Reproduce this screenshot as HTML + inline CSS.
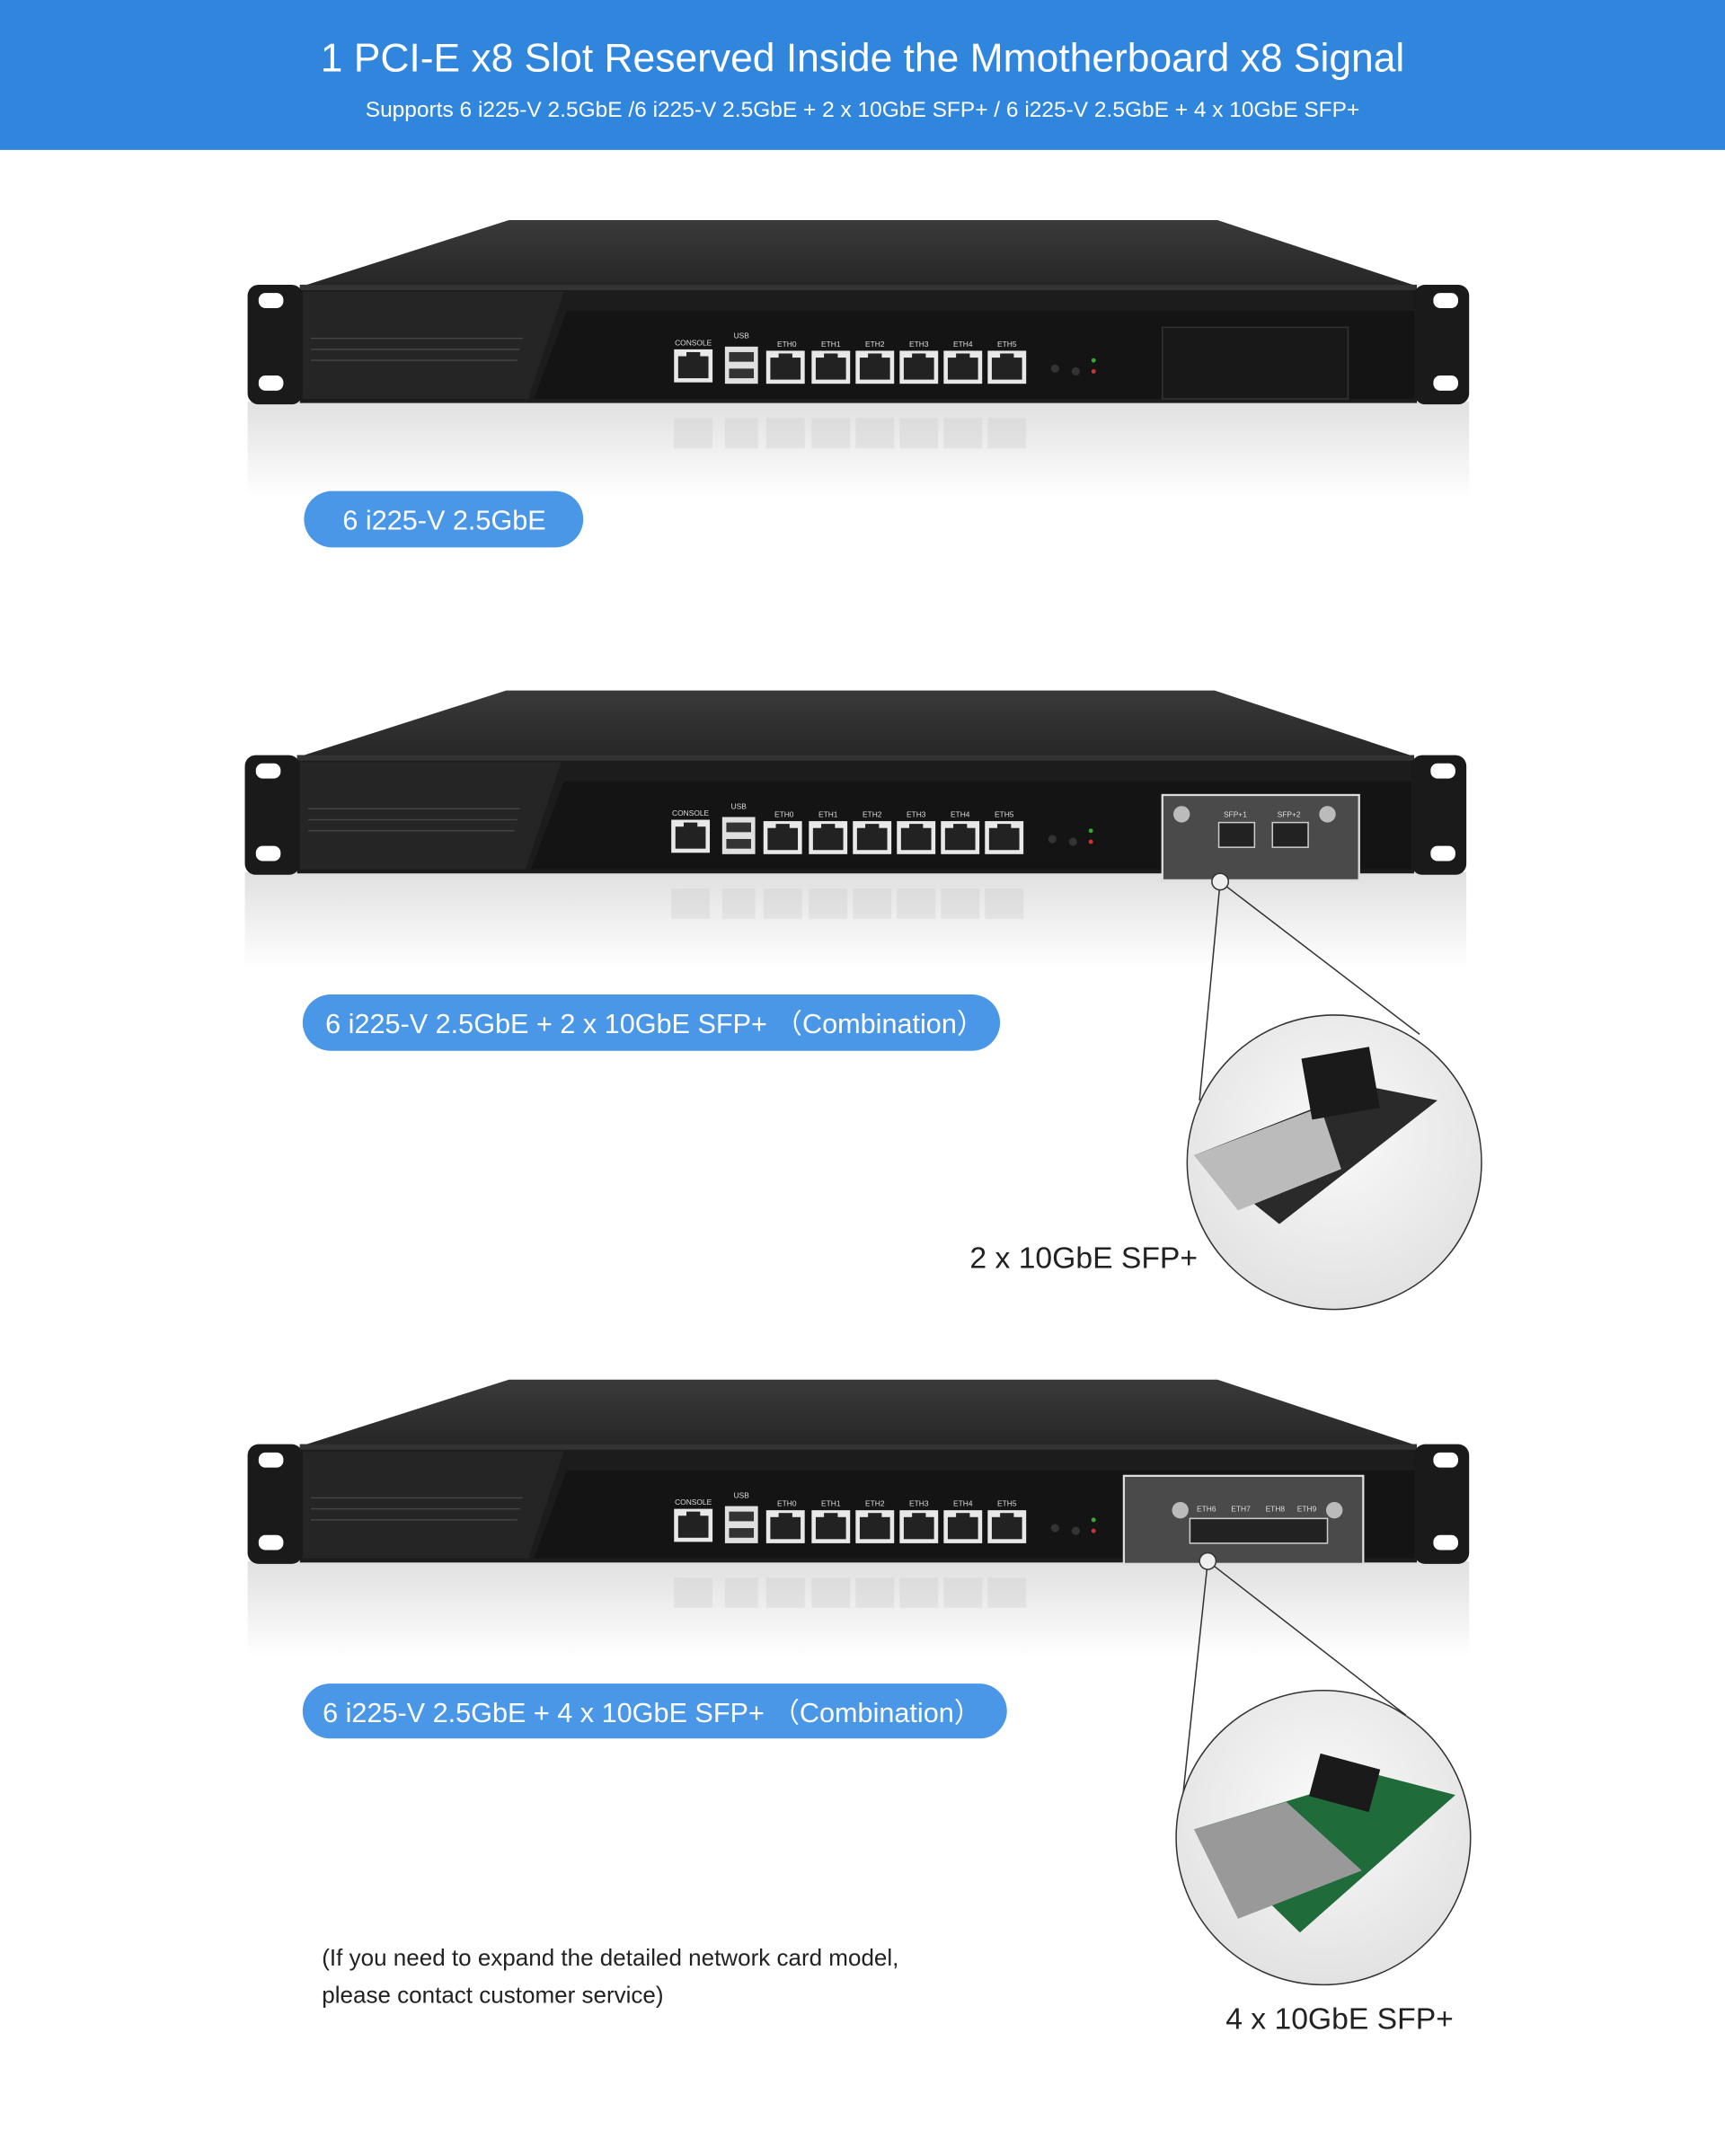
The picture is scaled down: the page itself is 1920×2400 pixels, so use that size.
<!DOCTYPE html>
<html><head><meta charset="utf-8"><style>
html,body{margin:0;padding:0;background:#fff}
svg{display:block}
text{font-family:"Liberation Sans","DejaVu Sans",sans-serif}
</style></head><body>
<svg width="1920" height="2400" viewBox="0 0 1254 1567.5" xmlns="http://www.w3.org/2000/svg">
<defs>
<linearGradient id="refl" x1="0" y1="0" x2="0" y2="1">
<stop offset="0" stop-color="#d8d8d8"/><stop offset="1" stop-color="#fff"/></linearGradient>
<linearGradient id="top" x1="0" y1="0" x2="0" y2="1">
<stop offset="0" stop-color="#3a3a3a"/><stop offset="1" stop-color="#262626"/></linearGradient>
<radialGradient id="circ" cx="0.5" cy="0.4" r="0.6">
<stop offset="0" stop-color="#fafafa"/><stop offset="1" stop-color="#e2e2e2"/></radialGradient>
<g id="port"><rect x="0" y="0" width="28" height="24" fill="#e8e8e8"/><rect x="3" y="5" width="22" height="16" fill="#222"/><rect x="9" y="2" width="10" height="4" fill="#222"/></g>
<g id="server">
<rect x="180" y="292" width="888" height="70" fill="url(#refl)" opacity="0.8"/>
<g opacity="0.35">
<rect x="490" y="304" width="28" height="22" fill="#ccc"/><rect x="527" y="304" width="24" height="22" fill="#ccc"/>
<rect x="557" y="304" width="28" height="22" fill="#ccc"/><rect x="590" y="304" width="28" height="22" fill="#ccc"/>
<rect x="622" y="304" width="28" height="22" fill="#ccc"/><rect x="654" y="304" width="28" height="22" fill="#ccc"/>
<rect x="686" y="304" width="28" height="22" fill="#ccc"/><rect x="718" y="304" width="28" height="22" fill="#ccc"/>
</g>
<polygon points="220,208 370,160 885,160 1030,208" fill="url(#top)"/>
<rect x="218" y="207" width="812" height="86" fill="#1c1c1c"/>
<rect x="218" y="207" width="812" height="4" fill="#333"/>
<polygon points="220,212 410,212 384,290 220,290" fill="#252525"/>
<line x1="226" y1="246" x2="380" y2="246" stroke="#444" stroke-width="1"/>
<line x1="226" y1="254" x2="378" y2="254" stroke="#444" stroke-width="1"/>
<line x1="226" y1="262" x2="376" y2="262" stroke="#444" stroke-width="1"/>
<polygon points="412,226 1028,226 1028,290 388,290" fill="#141414"/>
<rect x="180" y="207" width="40" height="87" rx="8" fill="#1a1a1a"/>
<rect x="1028" y="207" width="40" height="87" rx="8" fill="#1a1a1a"/>
<rect x="188" y="213" width="18" height="11" rx="5" fill="#fff"/>
<rect x="188" y="273" width="18" height="11" rx="5" fill="#fff"/>
<rect x="1042" y="213" width="18" height="11" rx="5" fill="#fff"/>
<rect x="1042" y="273" width="18" height="11" rx="5" fill="#fff"/>
<use href="#port" x="490" y="254"/>
<rect x="527" y="252" width="24" height="27" fill="#e0e0e0"/>
<rect x="530" y="256" width="18" height="7" fill="#333"/><rect x="530" y="268" width="18" height="7" fill="#333"/>
<use href="#port" x="557" y="255"/><use href="#port" x="590" y="255"/><use href="#port" x="622" y="255"/>
<use href="#port" x="654" y="255"/><use href="#port" x="686" y="255"/><use href="#port" x="718" y="255"/>
<g fill="#ddd" font-size="5.5" text-anchor="middle">
<text x="504" y="251">CONSOLE</text><text x="539" y="246">USB</text>
<text x="572" y="252">ETH0</text><text x="604" y="252">ETH1</text><text x="636" y="252">ETH2</text>
<text x="668" y="252">ETH3</text><text x="700" y="252">ETH4</text><text x="732" y="252">ETH5</text>
</g>
<circle cx="767" cy="268" r="3" fill="#333"/><circle cx="782" cy="270" r="3" fill="#333"/>
<circle cx="795" cy="262" r="1.6" fill="#3a3"/><circle cx="795" cy="270" r="1.6" fill="#c33"/>
</g>
</defs>

<rect x="0" y="0" width="1254" height="109" fill="#2f86dc"/>
<text x="627" y="52" fill="#fff" font-size="29" text-anchor="middle">1 PCI-E x8 Slot Reserved Inside the Mmotherboard x8 Signal</text>
<text x="627" y="85" fill="#fff" font-size="16" text-anchor="middle">Supports 6 i225-V 2.5GbE /6 i225-V 2.5GbE + 2 x 10GbE SFP+  / 6 i225-V 2.5GbE + 4 x 10GbE SFP+</text>

<!-- server 1 -->
<use href="#server"/>
<rect x="845" y="238" width="135" height="52" fill="#181818" stroke="#333"/>
<rect x="221" y="357" width="203" height="41" rx="20.5" fill="#4a97e8"/>
<text x="323" y="385" fill="#fff" font-size="20" text-anchor="middle">6 i225-V 2.5GbE</text>

<!-- server 2 -->
<g transform="translate(-2,342)"><use href="#server"/></g>
<rect x="845" y="578" width="143" height="62" fill="#4a4a4a" stroke="#ddd" stroke-width="1.5"/>
<circle cx="859" cy="592" r="6" fill="#bbb"/><circle cx="965" cy="592" r="6" fill="#bbb"/>
<rect x="886" y="598" width="26" height="18" fill="#222" stroke="#ccc"/><rect x="925" y="598" width="26" height="18" fill="#222" stroke="#ccc"/>
<text x="898" y="594" fill="#ddd" font-size="5.5" text-anchor="middle">SFP+1</text>
<text x="937" y="594" fill="#ddd" font-size="5.5" text-anchor="middle">SFP+2</text>
<rect x="220" y="723" width="507" height="41" rx="20.5" fill="#4a97e8"/>
<text x="476" y="751" fill="#fff" font-size="20" text-anchor="middle">6 i225-V 2.5GbE + 2 x 10GbE SFP+ （Combination）</text>
<line x1="887" y1="641" x2="872" y2="800" stroke="#333" stroke-width="1"/>
<line x1="887" y1="641" x2="1032" y2="752" stroke="#333" stroke-width="1"/>
<circle cx="887" cy="641" r="6" fill="#eee" stroke="#333"/>
<circle cx="970" cy="845" r="107" fill="url(#circ)" stroke="#333" stroke-width="1"/>
<polygon points="868,840 995,790 1045,800 930,890" fill="#2a2a2a"/>
<polygon points="868,840 960,805 975,850 900,880" fill="#bbb"/>
<rect x="950" y="765" width="50" height="45" fill="#1a1a1a" transform="rotate(-10 975 790)"/>
<text x="705" y="922" fill="#222" font-size="22">2 x 10GbE SFP+</text>

<!-- server 3 -->
<g transform="translate(0,843)"><use href="#server"/></g>
<rect x="817" y="1073" width="174" height="64" fill="#4a4a4a" stroke="#ddd" stroke-width="1.5"/>
<circle cx="858" cy="1098" r="6" fill="#bbb"/><circle cx="970" cy="1098" r="6" fill="#bbb"/>
<rect x="865" y="1104" width="100" height="18" fill="#222" stroke="#ccc"/>
<g fill="#ddd" font-size="5.5" text-anchor="middle">
<text x="877" y="1099">ETH6</text><text x="902" y="1099">ETH7</text><text x="927" y="1099">ETH8</text><text x="950" y="1099">ETH9</text></g>
<rect x="220" y="1224" width="512" height="40" rx="20" fill="#4a97e8"/>
<text x="474" y="1252" fill="#fff" font-size="20" text-anchor="middle">6 i225-V 2.5GbE + 4 x 10GbE SFP+ （Combination）</text>
<line x1="878" y1="1135" x2="860" y2="1305" stroke="#333" stroke-width="1"/>
<line x1="878" y1="1135" x2="1022" y2="1247" stroke="#333" stroke-width="1"/>
<circle cx="878" cy="1135" r="6" fill="#eee" stroke="#333"/>
<circle cx="962" cy="1336" r="107" fill="url(#circ)" stroke="#333" stroke-width="1"/>
<polygon points="868,1330 1000,1290 1058,1305 945,1405" fill="#1f6b3a"/>
<polygon points="868,1330 935,1310 990,1360 900,1395" fill="#999"/>
<rect x="955" y="1280" width="45" height="32" fill="#1a1a1a" transform="rotate(15 977 1296)"/>
<text x="891" y="1475" fill="#222" font-size="22">4 x 10GbE SFP+</text>

<text x="234" y="1429" fill="#222" font-size="17">(If you need to expand the detailed network card model,</text>
<text x="234" y="1456" fill="#222" font-size="17">please contact customer service)</text>
</svg>
</body></html>
